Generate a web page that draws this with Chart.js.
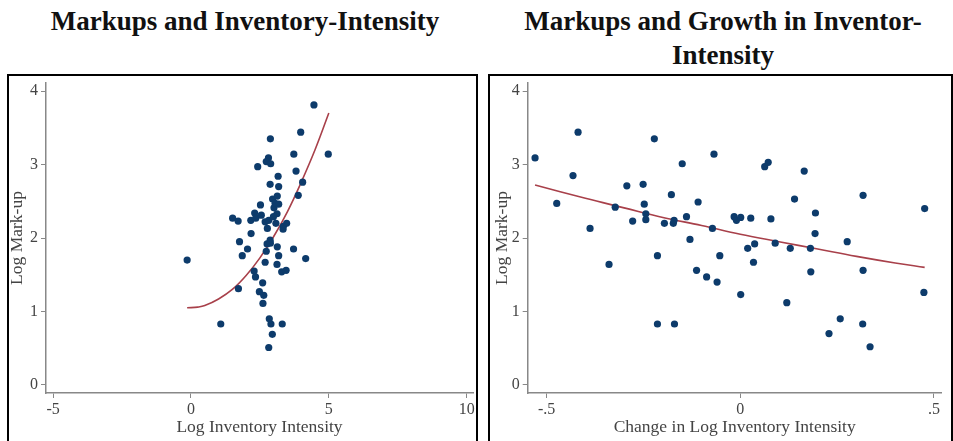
<!DOCTYPE html>
<html>
<head>
<meta charset="utf-8">
<script src="https://cdn.jsdelivr.net/npm/chart.js@4.4.1/dist/chart.umd.min.js"></script>
<style>
  body { margin: 0; width: 953px; height: 441px; background: #fff; overflow: hidden; position: relative; font-family: "Liberation Serif", serif; }
  .title { position: absolute; font-weight: bold; font-size: 27px; line-height: 34px; text-align: center; color: #111; white-space: nowrap; }
  .frame { position: absolute; border: 2px solid #000; border-bottom: none; pointer-events: none; }
  .holder { position: absolute; top: 0; height: 441px; }
</style>
</head>
<body>
<div class="title" style="left:0;width:490px;top:4px;">Markups and Inventory-Intensity</div>
<div class="title" style="left:480px;width:486px;top:4px;">Markups and Growth in Inventor-<br>Intensity</div>

<div class="holder" style="left:0;width:480px;"><canvas id="levelChart" width="480" height="441"></canvas></div>
<div class="holder" style="left:480px;width:473px;"><canvas id="growthChart" width="473" height="441"></canvas></div>

<div class="frame" style="left:7px;top:74px;width:467px;height:380px;"></div>
<div class="frame" style="left:488px;top:74px;width:461px;height:380px;"></div>

<script>
// left panel: log inventory intensity vs log mark-up
const levelX = [-0.14, 1.08, 1.72, 1.51, 1.71, 1.76, 1.86, 2.05, 2.18, 2.17, 2.31, 2.35, 2.52, 2.55, 2.42,
  2.29, 2.34, 2.48, 2.60, 2.64, 2.61, 2.69, 2.73, 2.76, 2.77, 2.69, 2.82, 2.87, 2.88, 2.87, 2.88, 2.81,
  2.73, 2.89, 2.84, 2.90, 2.95, 2.82, 3.31, 2.96, 3.01, 3.05, 3.13, 3.16, 3.18, 3.18, 3.12, 2.99, 3.08,
  3.13, 3.18, 3.12, 3.29, 3.45, 3.35, 3.47, 3.34, 3.72, 3.73, 3.81, 3.89, 4.05, 3.98, 4.16, 4.46, 4.98];
const levelY = [1.70, 0.83, 1.31, 2.27, 2.23, 1.95, 1.76, 1.85, 2.06, 2.24, 2.34, 2.27, 2.45, 2.31, 2.97,
  1.55, 1.47, 1.27, 1.39, 1.22, 1.11, 1.67, 1.82, 1.92, 2.13, 2.22, 2.24, 1.97, 1.93, 2.73, 3.35, 3.09,
  3.04, 3.01, 0.90, 0.83, 0.69, 0.51, 0.83, 2.53, 2.41, 2.47, 2.57, 2.84, 2.70, 2.46, 2.33, 2.29, 2.20,
  1.88, 1.76, 1.64, 1.54, 1.56, 2.16, 2.20, 2.12, 1.85, 3.14, 2.91, 2.58, 2.76, 3.44, 1.72, 3.81, 3.14];
const levelFitX = [-0.14, 0.25, 0.5, 1, 1.5, 2, 2.5, 3, 3.5, 4, 4.5, 5];
const levelFitY = [1.05, 1.06, 1.08, 1.17, 1.30, 1.49, 1.73, 2.02, 2.36, 2.76, 3.20, 3.70];
const levelTicks = [-5, 0, 5, 10];
const levelTickLabels = ['-5', '0', '5', '10'];

// right panel: change in log inventory intensity vs log mark-up
const growthX = [-0.530, -0.474, -0.419, -0.432, -0.388, -0.339, -0.323, -0.293, -0.278, -0.251, -0.248,
  -0.244, -0.244, -0.222, -0.214, -0.214, -0.196, -0.178, -0.173, -0.171, -0.170, -0.150, -0.139, -0.130,
  -0.113, -0.109, -0.087, -0.072, -0.068, -0.060, -0.053, -0.016, -0.010, 0.001, 0.001, 0.019, 0.027,
  0.037, 0.034, 0.063, 0.072, 0.079, 0.090, 0.120, 0.129, 0.140, 0.165, 0.181, 0.182, 0.194, 0.193,
  0.229, 0.258, 0.276, 0.317, 0.317, 0.316, 0.335, 0.476, 0.474];
const growthY = [3.09, 2.47, 3.44, 2.85, 2.13, 1.64, 2.42, 2.71, 2.23, 2.73, 2.46,
  2.33, 2.25, 3.35, 1.76, 0.83, 2.20, 2.59, 2.20, 2.24, 0.83, 3.01, 2.29, 1.98,
  1.56, 2.49, 1.47, 2.13, 3.14, 1.40, 1.76, 2.29, 2.24, 2.28, 1.23, 1.86, 2.27,
  1.92, 1.67, 2.97, 3.03, 2.26, 1.93, 1.12, 1.86, 2.53, 2.91, 1.86, 1.54, 2.34, 2.06,
  0.70, 0.90, 1.95, 2.58, 1.56, 0.83, 0.52, 2.40, 1.26];
const growthFitX = [-0.53, -0.4, -0.3, -0.2, -0.1, 0, 0.1, 0.2, 0.3, 0.4, 0.476];
const growthFitY = [2.72, 2.54, 2.41, 2.28, 2.17, 2.05, 1.95, 1.85, 1.75, 1.66, 1.60];
const growthTicks = [-0.5, 0, 0.5];
const growthTickLabels = ['-.5', '0', '.5'];

const yTicks = [0, 1, 2, 3, 4];

const dotColor = '#0d3b6b';
const fitColor = '#a8404a';
const axisColor = '#888';
const textColor = '#444';

Chart.defaults.font.family = '"Liberation Serif", serif';
Chart.defaults.color = textColor;

function toPoints(xs, ys) {
  return xs.map((x, i) => ({ x: x, y: ys[i] }));
}

function makeChart(el, opts) {
  return new Chart(el, {
    type: 'scatter',
    data: {
      datasets: [
        {
          data: toPoints(opts.xs, opts.ys),
          backgroundColor: dotColor,
          borderColor: dotColor,
          pointRadius: 3.6,
          borderWidth: 0
        },
        {
          data: toPoints(opts.fitX, opts.fitY),
          showLine: true,
          borderColor: fitColor,
          borderWidth: 1.6,
          pointRadius: 0,
          tension: 0.4
        }
      ]
    },
    options: {
      responsive: false,
      animation: false,
      events: [],
      layout: { padding: { top: 83, right: opts.rightPad, bottom: 0, left: 0 } },
      plugins: { legend: { display: false }, tooltip: { enabled: false } },
      scales: {
        x: {
          type: 'linear',
          min: opts.xMin,
          max: opts.xMax,
          afterBuildTicks: (scale) => { scale.ticks = opts.xTicks.map(v => ({ value: v })); },
          afterFit: (scale) => { scale.height = 48; },
          ticks: {
            autoSkip: false,
            padding: 2,
            color: textColor,
            font: { size: 16 },
            callback: (value, index) => opts.xLabels[index]
          },
          grid: { drawOnChartArea: false, drawTicks: true, tickLength: 5, color: axisColor },
          border: { color: axisColor, width: 1.5 },
          title: {
            display: true,
            text: opts.xTitle,
            color: textColor,
            font: { size: 17.5 },
            padding: { top: 0, bottom: 3 }
          }
        },
        y: {
          type: 'linear',
          min: -0.109,
          max: 4.109,
          afterBuildTicks: (scale) => { scale.ticks = yTicks.map(v => ({ value: v })); },
          afterFit: (scale) => { scale.width = opts.yWidth; },
          ticks: { autoSkip: false, padding: 3, color: textColor, font: { size: 16 } },
          grid: { drawOnChartArea: false, drawTicks: true, tickLength: 5, color: axisColor },
          border: { color: axisColor, width: 1.5 },
          title: {
            display: true,
            text: 'Log Mark-up',
            color: textColor,
            font: { size: 17.5 },
            padding: { top: opts.yTitlePad, bottom: 0 }
          }
        }
      }
    }
  });
}

makeChart(document.getElementById('levelChart'), {
  xs: levelX, ys: levelY, fitX: levelFitX, fitY: levelFitY,
  xMin: -5.26, xMax: 10.23, xTicks: levelTicks, xLabels: levelTickLabels,
  xTitle: 'Log Inventory Intensity', yWidth: 46, yTitlePad: 7, rightPad: 7
});

makeChart(document.getElementById('growthChart'), {
  xs: growthX, ys: growthY, fitX: growthFitX, fitY: growthFitY,
  xMin: -0.549, xMax: 0.52, xTicks: growthTicks, xLabels: growthTickLabels,
  xTitle: 'Change in Log Inventory Intensity', yWidth: 47.7, yTitlePad: 11.5, rightPad: 11.3
});
</script>
</body>
</html>
